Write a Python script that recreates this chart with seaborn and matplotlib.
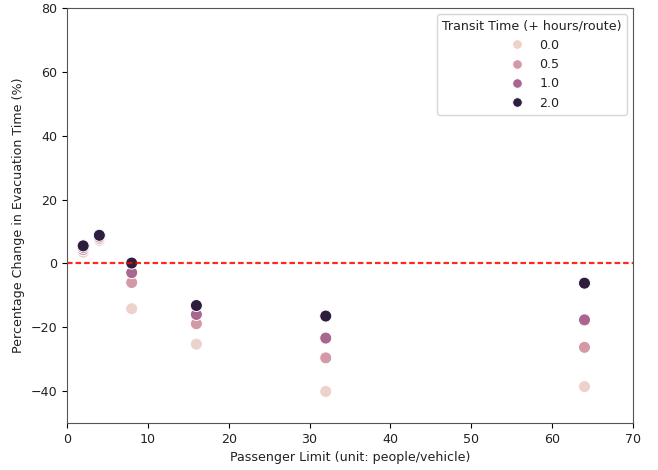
import matplotlib
matplotlib.use("Agg")
import matplotlib.pyplot as plt
import seaborn as sns
import pandas as pd

# passenger limits and percentage change per transit time
passenger_limit = [2, 4, 8, 16, 32, 64]
transit_times = [0.0, 0.5, 1.0, 2.0]
pct_t00 = [3.5, 7.2, -14.2, -25.3, -40.1, -38.6]
pct_t05 = [4.3, 7.8, -6.0, -18.9, -29.6, -26.3]
pct_t10 = [5.0, 8.3, -2.9, -16.0, -23.4, -17.7]
pct_t20 = [5.5, 8.8, 0.1, -13.2, -16.5, -6.2]

rows = []
for t, vals in zip(transit_times, [pct_t00, pct_t05, pct_t10, pct_t20]):
    for x, v in zip(passenger_limit, vals):
        rows.append({"Passenger Limit": x, "Change": v, "Transit Time (+ hours/route)": t})
df = pd.DataFrame(rows)

plt.rcParams["font.size"] = 9.1
plt.rcParams["axes.edgecolor"] = "#555555"
plt.rcParams["text.color"] = "#222222"
plt.rcParams["axes.labelcolor"] = "#222222"
plt.rcParams["xtick.labelcolor"] = "#222222"
plt.rcParams["ytick.labelcolor"] = "#222222"

fig = plt.figure(figsize=(6.58, 4.70), dpi=100)
ax = fig.add_axes([67 / 658, 1 - 423 / 470, 566 / 658, 415 / 470])
sns.scatterplot(data=df, x="Passenger Limit", y="Change",
                hue="Transit Time (+ hours/route)", s=75, ax=ax)
ax.axhline(0, color="red", linestyle=(0, (2.5, 1.35)), linewidth=1.6, alpha=0.85)
ax.set_xlim(0, 70)
ax.set_ylim(-50, 80)
ax.set_xlabel("Passenger Limit (unit: people/vehicle)")
ax.set_ylabel("Percentage Change in Evacuation Time (%)")
ax.legend(title="Transit Time (+ hours/route)", loc="upper right", markerscale=0.8)
fig.savefig("out.png", dpi=100)
